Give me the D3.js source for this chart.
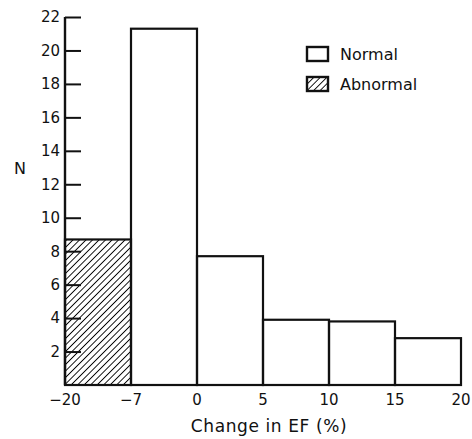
<!DOCTYPE html>
<html>
<head>
<meta charset="utf-8">
<script src="https://cdn.jsdelivr.net/npm/d3@7"></script>
<style>
  body { margin: 0; background: #fff; }
  text { font-family: "DejaVu Sans", sans-serif; fill: #111; }
</style>
</head>
<body>
<div class="chart"></div>
<script>
// bin edges (evenly spaced on the printed axis) and counts
var edges = ['-20', '-7', '0', '5', '10', '15', '20'];
var counts = [8.7, 21.3, 7.7, 3.9, 3.8, 2.8];
var groups = ['Abnormal', 'Normal', 'Normal', 'Normal', 'Normal', 'Normal'];
var yTicks = [2, 4, 6, 8, 10, 12, 14, 16, 18, 20, 22];

var width = 472,
    height = 439,
    margin = {top: 17, right: 11, bottom: 54, left: 65};

var svg = d3.select('div.chart')
    .append('svg')
        .attr('width', width)
        .attr('height', height);

var defs = svg.append('defs');
defs.append('pattern')
    .attr('id', 'hatch')
    .attr('patternUnits', 'userSpaceOnUse')
    .attr('width', 4.6)
    .attr('height', 4.6)
    .attr('patternTransform', 'rotate(45)')
  .append('line')
    .attr('x1', 0).attr('y1', 0)
    .attr('x2', 0).attr('y2', 4.6)
    .attr('stroke', '#000')
    .attr('stroke-width', 1.8);

var x = d3.scalePoint()
    .domain(edges)
    .range([margin.left, width - margin.right]);

var y = d3.scaleLinear()
    .domain([0, 22])
    .range([height - margin.bottom, margin.top]);

var bins = counts.map((c, i) => ({x0: edges[i], x1: edges[i + 1], n: c, group: groups[i]}));

// bars
svg.selectAll('rect.bar')
    .data(bins)
    .enter()
    .append('rect')
        .attr('class', 'bar')
        .attr('x', (d) => x(d.x0))
        .attr('y', (d) => y(d.n))
        .attr('width', (d) => x(d.x1) - x(d.x0))
        .attr('height', (d) => y(0) - y(d.n))
        .attr('fill', (d) => d.group === 'Abnormal' ? 'url(#hatch)' : 'none')
        .attr('stroke', '#111')
        .attr('stroke-width', 2.2);

// y axis with ticks pointing inward
var yAxis = d3.axisRight(y)
    .tickValues(yTicks)
    .tickSize(16)
    .tickFormat('');

var gy = svg.append('g')
    .attr('transform', 'translate(' + margin.left + ',0)')
    .call(yAxis);
gy.select('.domain').remove();
gy.selectAll('line').attr('stroke', '#111').attr('stroke-width', 2);

svg.append('line')
    .attr('x1', margin.left).attr('x2', margin.left)
    .attr('y1', y(22)).attr('y2', y(0))
    .attr('stroke', '#111')
    .attr('stroke-width', 2.4);

svg.selectAll('text.ylab')
    .data(yTicks)
    .enter()
    .append('text')
        .attr('class', 'ylab')
        .attr('x', margin.left - 5)
        .attr('y', (d) => y(d))
        .attr('dy', '0.36em')
        .attr('text-anchor', 'end')
        .style('font-size', '15px')
        .text((d) => d);

// x labels
svg.selectAll('text.xlab')
    .data(edges)
    .enter()
    .append('text')
        .attr('class', 'xlab')
        .attr('x', (d) => x(d))
        .attr('y', y(0) + 20)
        .attr('text-anchor', 'middle')
        .style('font-size', '15px')
        .text((d) => d.replace('-', '\u2212'));

svg.append('text')
    .attr('x', 269)
    .attr('y', 432)
    .attr('text-anchor', 'middle')
    .style('font-size', '17px')
    .style('letter-spacing', '0.6px')
    .text('Change in EF (%)');

svg.append('text')
    .attr('x', 20)
    .attr('y', y(13) + 6)
    .attr('text-anchor', 'middle')
    .style('font-size', '16px')
    .text('N');

// legend
var legendItems = ['Normal', 'Abnormal'];
var legend = svg.selectAll('g.legend')
    .data(legendItems)
    .enter()
    .append('g')
        .attr('class', 'legend')
        .attr('transform', (d, i) => 'translate(307,' + (47 + i * 30) + ')');

legend.append('rect')
    .attr('width', 21)
    .attr('height', 14)
    .attr('fill', (d) => d === 'Abnormal' ? 'url(#hatch)' : 'none')
    .attr('stroke', '#111')
    .attr('stroke-width', 2.4);

legend.append('text')
    .attr('x', 33)
    .attr('y', 13)
    .style('font-size', '16px')
    .text((d) => d);
</script>
</body>
</html>
